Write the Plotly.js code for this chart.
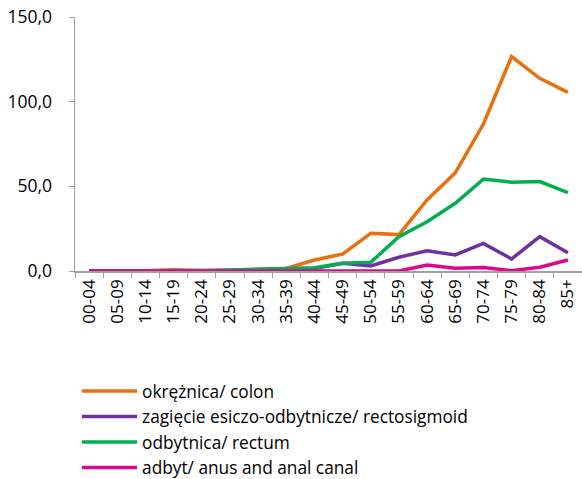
<!DOCTYPE html>
<html>
<head>
<meta charset="utf-8">
<script src="https://cdn.plot.ly/plotly-3.0.1.min.js"></script>
<style>html,body{margin:0;padding:0;background:#fff;}#chart{width:582px;height:479px;}</style>
</head>
<body>
<div id="chart"></div>
<script>
const ageGroups = ["00-04","05-09","10-14","15-19","20-24","25-29","30-34","35-39","40-44","45-49","50-54","55-59","60-64","65-69","70-74","75-79","80-84","85+"];
const colon        = [0.0, 0.0, 0.2, 0.8, 0.2, 0.3, 0.8, 1.5, 6.5, 10.0, 22.3, 21.5, 42.0, 58.0, 86.8, 126.6, 113.8, 105.5];
const rectosigmoid = [0.0, 0.0, 0.0, 0.0, 0.0, 0.2, 0.5, 1.0, 1.5, 4.5, 3.0, 8.1, 12.0, 9.5, 16.3, 7.1, 20.3, 10.8];
const rectum       = [0.0, 0.0, 0.0, 0.0, 0.2, 0.6, 1.2, 1.6, 1.9, 4.6, 5.1, 20.3, 29.1, 40.0, 54.3, 52.4, 52.8, 46.3];
const anus         = [0.0, 0.0, 0.0, 0.0, 0.0, 0.0, 0.0, 0.0, 0.0, 0.0, 0.0, 0.0, 3.5, 1.6, 2.0, 0.2, 2.2, 6.5];
const seriesNames  = ["okrężnica/ colon", "zagięcie esiczo-odbytnicze/ rectosigmoid", "odbytnica/ rectum", "adbyt/ anus and anal canal"];
const yTicks = [0, 50, 100, 150];

const colors = ["#E8710F", "#7030A0", "#00B050", "#E0068C"];
const allSeries = [colon, rectosigmoid, rectum, anus];
const traces = allSeries.map((ys, i) => ({
  type: "scatter", mode: "lines", x: ageGroups, y: ys, name: seriesNames[i],
  line: {color: colors[i], width: 3.5}, hoverinfo: "skip"
}));

const fam = "'Open Sans', sans-serif";
const layout = {
  width: 582, height: 479,
  margin: {l: 75, r: 0, t: 17, b: 208, autoexpand: false},
  separators: ", ",
  paper_bgcolor: "#fff", plot_bgcolor: "#fff",
  font: {family: fam, size: 17, color: "#000"},
  showlegend: true,
  legend: {x: 0.004, y: -0.403, xanchor: "left", yanchor: "top", orientation: "v",
           font: {family: fam, size: 17.3, color: "#000"}, itemwidth: 55, tracegroupgap: 0},
  xaxis: {type: "category", range: [-0.5, 17.5], tickangle: -90, showline: true, linecolor: "#A0A0A0", linewidth: 1.5,
          ticks: "outside", tickson: "boundaries", ticklen: 5, tickcolor: "#A0A0A0", showgrid: false, zeroline: false,
          tickfont: {family: fam, size: 17, color: "#000"}, fixedrange: true},
  yaxis: {range: [0, 150], tickvals: yTicks, tickformat: ".1f", showline: true, linecolor: "#A0A0A0", linewidth: 1.5,
          ticks: "outside", ticklen: 5, tickcolor: "#A0A0A0", showgrid: false, zeroline: false, ticklabelstandoff: 13,
          tickfont: {family: fam, size: 17.5, color: "#000"}, fixedrange: true}
};
Plotly.newPlot("chart", traces, layout, {displayModeBar: false, staticPlot: true});
</script>
</body>
</html>
